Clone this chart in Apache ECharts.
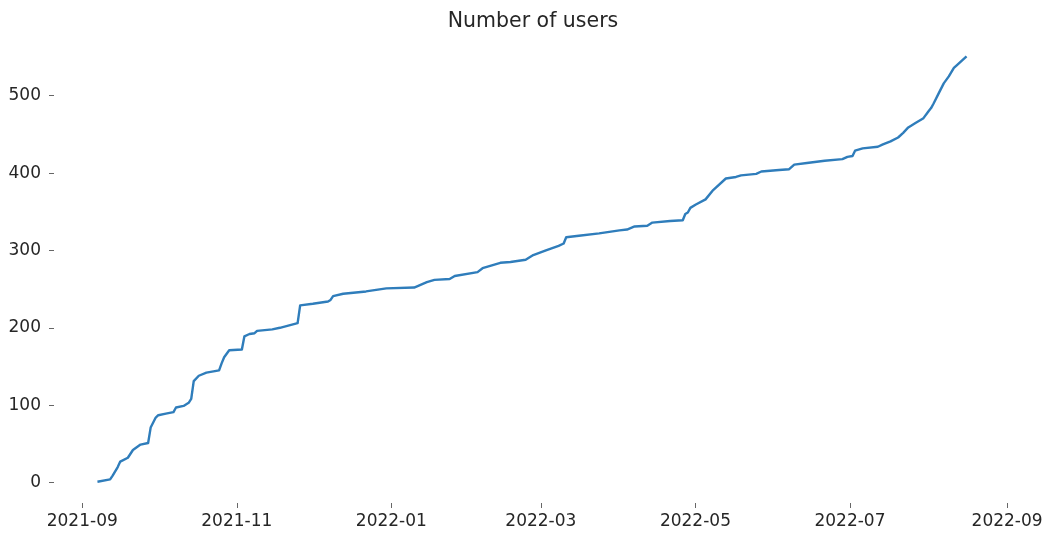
<!DOCTYPE html>
<html>
<head>
<meta charset="utf-8">
<script src="https://cdn.jsdelivr.net/npm/echarts@6/dist/echarts.min.js"></script>
<style>html,body{margin:0;padding:0;background:#fff}#c{width:1050px;height:535px}</style>
</head>
<body>
<div id="c"></div>
<script>
// Cumulative number of users
const dates = [
  '2021-09-07','2021-09-12','2021-09-13','2021-09-15','2021-09-16','2021-09-19','2021-09-21','2021-09-24',
  '2021-09-27','2021-09-28','2021-09-30','2021-10-01','2021-10-04','2021-10-07','2021-10-08','2021-10-11',
  '2021-10-13','2021-10-14','2021-10-15','2021-10-17','2021-10-20','2021-10-25','2021-10-26','2021-10-27',
  '2021-10-29','2021-11-03','2021-11-04','2021-11-06','2021-11-08','2021-11-09','2021-11-15','2021-11-18',
  '2021-11-25','2021-11-26','2021-12-01','2021-12-07','2021-12-08','2021-12-09','2021-12-13','2021-12-22',
  '2021-12-30','2022-01-10','2022-01-15','2022-01-18','2022-01-24','2022-01-26','2022-02-04','2022-02-06',
  '2022-02-10','2022-02-13','2022-02-17','2022-02-23','2022-02-26','2022-03-03','2022-03-08','2022-03-10',
  '2022-03-11','2022-03-16','2022-03-24','2022-04-01','2022-04-04','2022-04-07','2022-04-12','2022-04-14',
  '2022-04-21','2022-04-26','2022-04-27','2022-04-28','2022-04-29','2022-05-01','2022-05-05','2022-05-08',
  '2022-05-13','2022-05-17','2022-05-19','2022-05-25','2022-05-27','2022-06-03','2022-06-07','2022-06-09',
  '2022-06-14','2022-06-21','2022-06-28','2022-06-30','2022-07-02','2022-07-03','2022-07-06','2022-07-12',
  '2022-07-14','2022-07-17','2022-07-20','2022-07-22','2022-07-24','2022-07-27','2022-07-30','2022-08-01',
  '2022-08-02','2022-08-03','2022-08-05','2022-08-07','2022-08-09','2022-08-11','2022-08-12','2022-08-16'
];
const users = [
  1, 4, 9, 20, 27, 32, 42, 49,
  51, 71, 84, 87, 89, 91, 97, 99,
  103, 108, 131, 138, 142, 145, 154, 162,
  171, 172, 189, 192, 193, 196, 198, 200,
  206, 229, 231, 234, 236, 241, 244, 247,
  251, 252, 259, 262, 263, 267, 272, 277,
  281, 284, 285, 288, 294, 300, 306, 309,
  317, 319, 322, 326, 327, 331, 332, 336,
  338, 339, 347, 349, 355, 359, 366, 378,
  393, 395, 397, 399, 402, 404, 405, 411,
  413, 416, 418, 421, 422, 429, 432, 434,
  437, 441, 446, 452, 459, 465, 471, 480,
  484, 490, 503, 516, 525, 536, 539, 551
];
const xTickLabels = ['2021-09','2021-11','2022-01','2022-03','2022-05','2022-07','2022-09'];
const yTicks = [0, 100, 200, 300, 400, 500];

function toTs(s) {
  const p = s.split('-').map(Number);
  return Date.UTC(p[0], p[1] - 1, p[2] || 1);
}
const xs = dates.map(toTs);
const seriesData = xs.map((t, i) => [t, users[i]]);
const xTicks = xTickLabels.map(toTs);

// matplotlib-like 5% autoscale margins
const xMinD = Math.min(...xs), xMaxD = Math.max(...xs);
const yMinD = Math.min(...users), yMaxD = Math.max(...users);
const xm = (xMaxD - xMinD) * 0.05, ym = (yMaxD - yMinD) * 0.05;

function fmt(v) {
  const d = new Date(v);
  const m = d.getUTCMonth() + 1;
  return d.getUTCFullYear() + '-' + (m < 10 ? '0' + m : m);
}

const font = 'DejaVu Sans';
const chart = echarts.init(document.getElementById('c'), null, { renderer: 'canvas' });
chart.setOption({
  animation: false,
  backgroundColor: '#ffffff',
  title: {
    text: 'Number of users',
    left: 528,
    textAlign: 'center',
    top: 6,
    textStyle: { fontFamily: font, fontSize: 20.5, fontWeight: 'normal', color: '#262626' }
  },
  grid: { left: 54, right: 40, top: 35, bottom: 32, containLabel: false },
  xAxis: {
    type: 'value',
    min: xMinD - xm,
    max: xMaxD + xm,
    axisLine: { show: false, onZero: false },
    splitLine: { show: false },
    axisTick: { show: true, length: 5, customValues: xTicks, lineStyle: { color: '#666', width: 1 } },
    axisLabel: {
      customValues: xTicks,
      formatter: fmt,
      margin: 10,
      fontFamily: font, fontSize: 17, color: '#262626', hideOverlap: false
    }
  },
  yAxis: {
    type: 'value',
    min: yMinD - ym,
    max: yMaxD + ym,
    axisLine: { show: false, onZero: false },
    splitLine: { show: false },
    axisTick: { show: true, length: 5, customValues: yTicks, lineStyle: { color: '#666', width: 1 } },
    axisLabel: {
      customValues: yTicks,
      margin: 13,
      fontFamily: font, fontSize: 17, color: '#262626'
    }
  },
  series: [{
    type: 'line',
    data: seriesData,
    showSymbol: false,
    symbol: 'none',
    lineStyle: { color: '#2f7dbb', width: 2.4, join: 'round' },
    z: 3
  }]
});
</script>
</body>
</html>
